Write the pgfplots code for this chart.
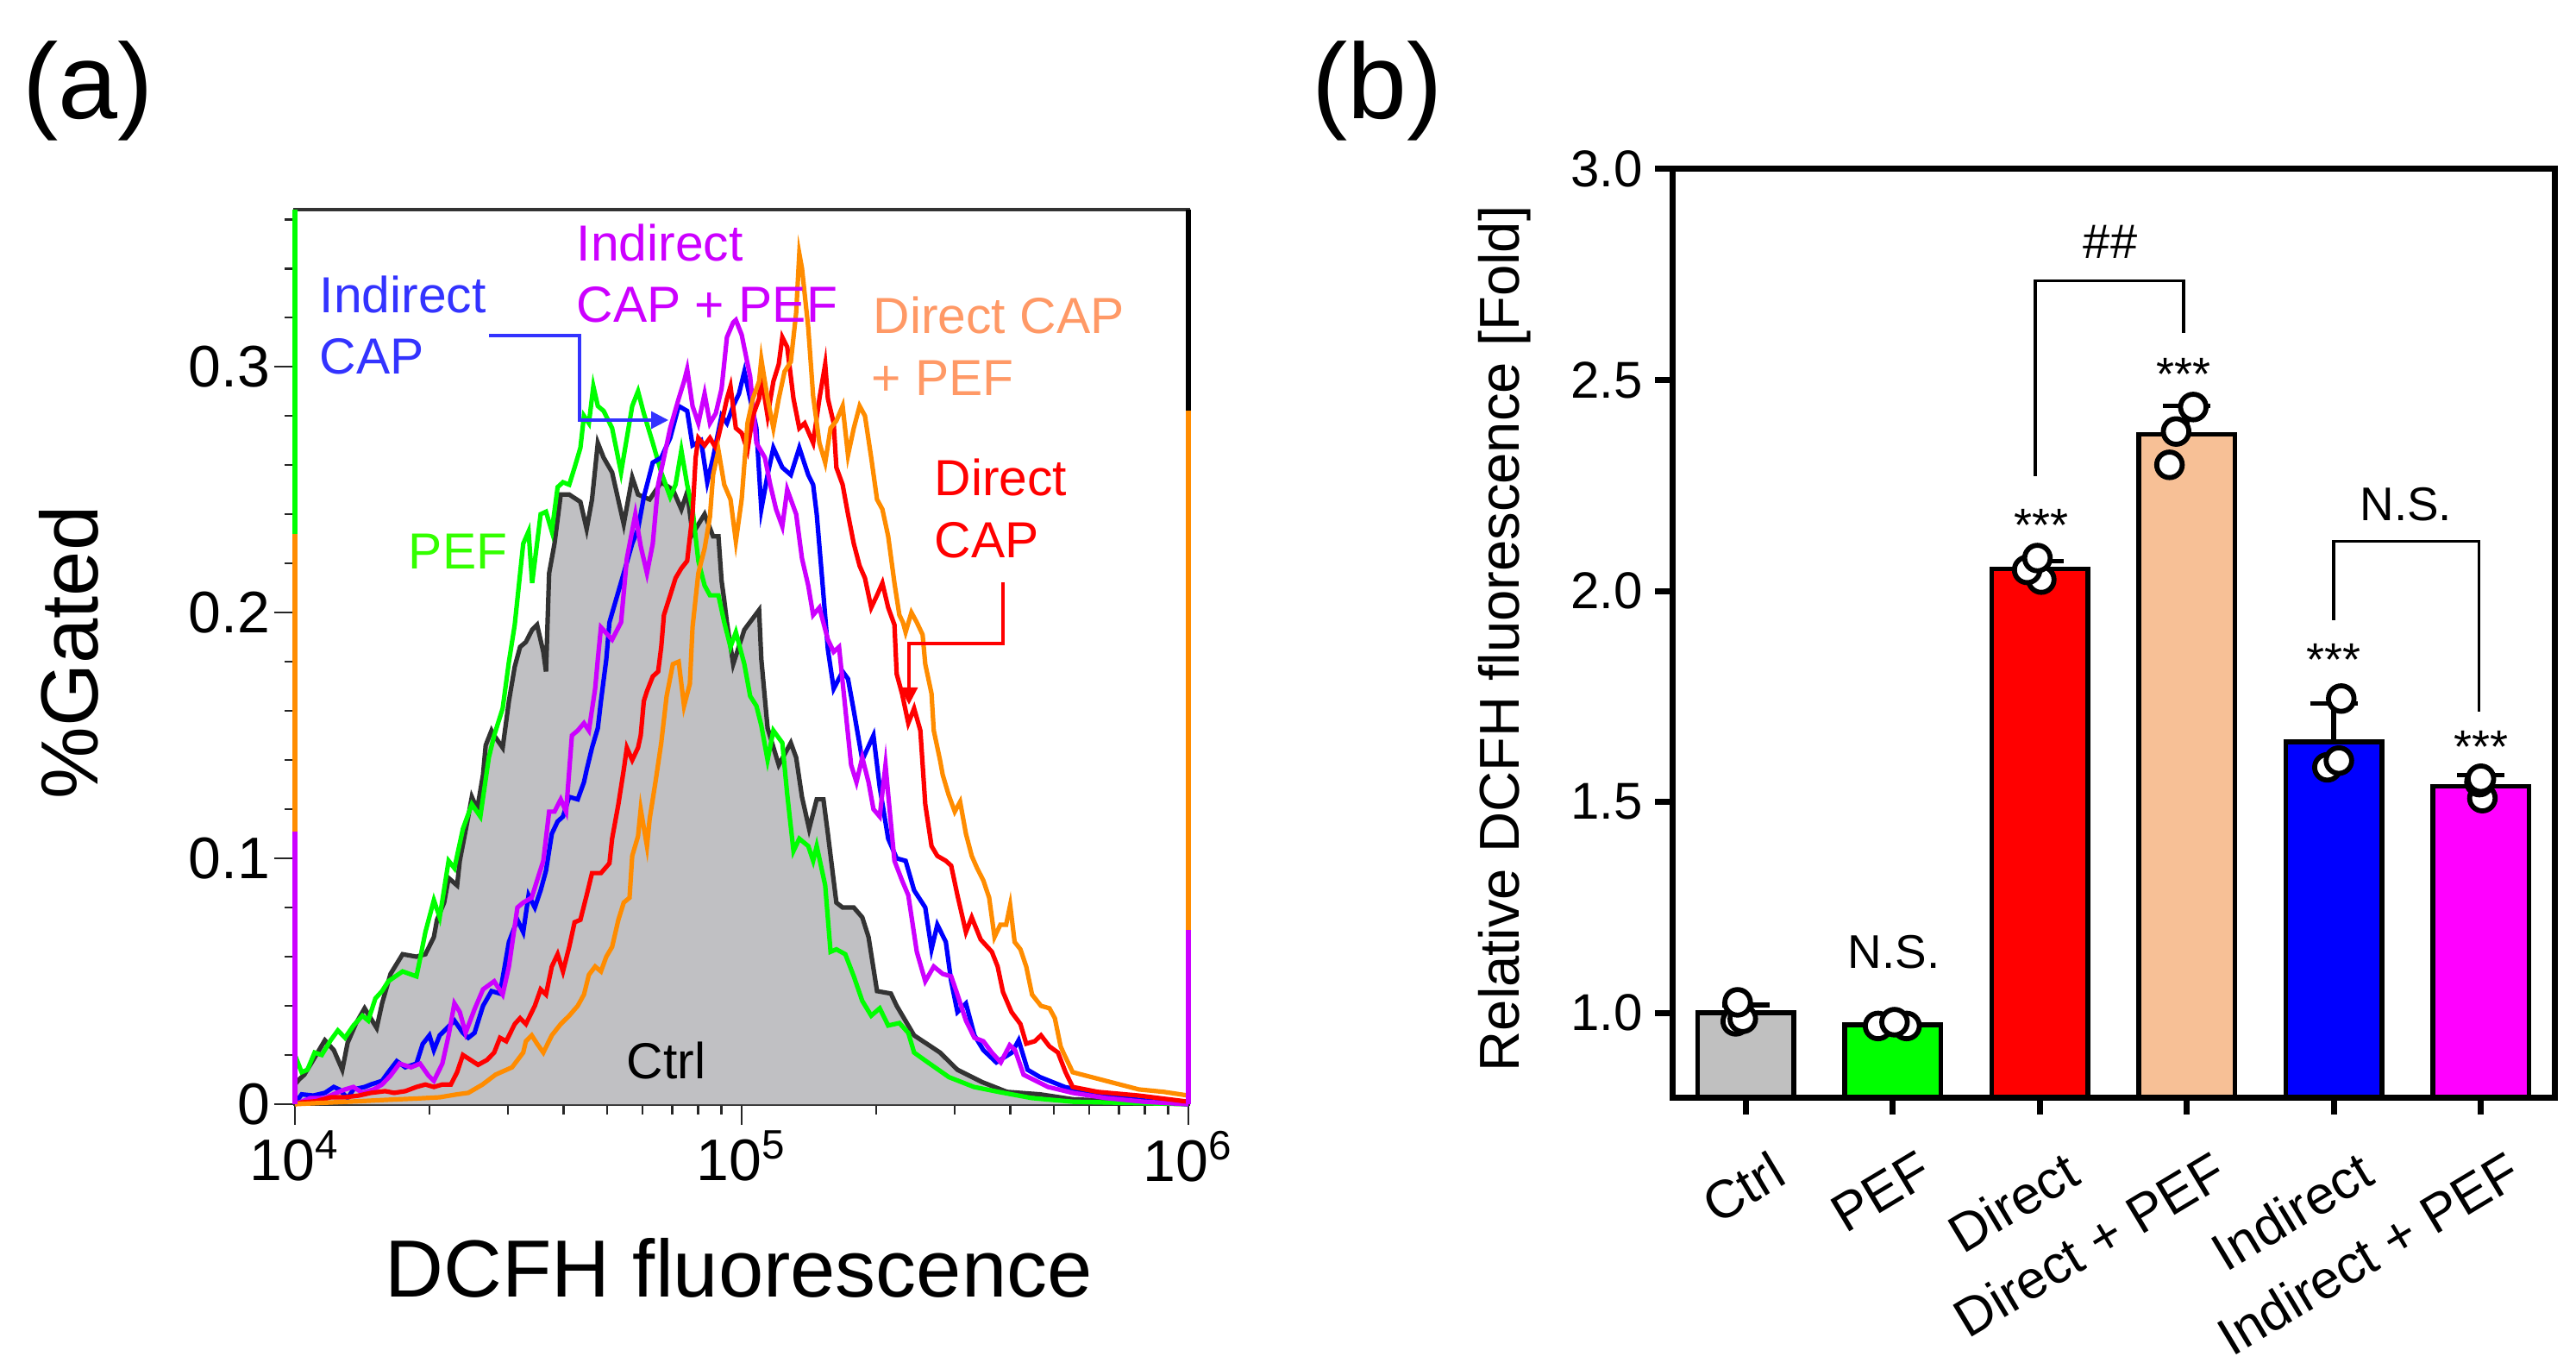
\documentclass[border=0pt]{standalone}
\usepackage{pgfplots}
\pgfplotsset{compat=1.18}
\usepackage{pgfplotstable}
\usepackage{fontspec}
\setmainfont{Liberation Sans}
\usetikzlibrary{arrows.meta}

\definecolor{ctrlfill}{RGB}{192,192,195}
\definecolor{ctrlline}{RGB}{51,51,51}
\definecolor{cgreen}{RGB}{0,255,0}
\definecolor{cgreenlab}{RGB}{51,255,0}
\definecolor{cblue}{RGB}{0,0,255}
\definecolor{cbluelab}{RGB}{51,51,255}
\definecolor{cpurple}{RGB}{204,0,255}
\definecolor{cred}{RGB}{255,0,0}
\definecolor{corange}{RGB}{255,140,0}
\definecolor{corangelab}{RGB}{255,153,102}
\definecolor{bpeach}{RGB}{247,192,150}
\definecolor{bmagenta}{RGB}{255,0,255}
\definecolor{bgray}{RGB}{192,192,192}

% x = log10(DCFH fluorescence), y = fraction gated
\pgfplotstableread{
x y
4.000 0.008
4.009 0.010
4.021 0.012
4.041 0.018
4.067 0.026
4.087 0.022
4.106 0.014
4.118 0.025
4.137 0.033
4.156 0.039
4.183 0.031
4.195 0.041
4.214 0.053
4.241 0.061
4.272 0.060
4.292 0.061
4.311 0.068
4.318 0.075
4.334 0.082
4.344 0.092
4.363 0.089
4.369 0.099
4.388 0.117
4.396 0.125
4.408 0.120
4.421 0.134
4.427 0.146
4.440 0.152
4.446 0.150
4.465 0.145
4.479 0.164
4.492 0.178
4.504 0.186
4.517 0.188
4.531 0.193
4.542 0.195
4.556 0.184
4.562 0.176
4.569 0.216
4.581 0.228
4.595 0.248
4.614 0.248
4.639 0.245
4.653 0.234
4.665 0.246
4.678 0.269
4.691 0.263
4.710 0.257
4.736 0.236
4.755 0.255
4.768 0.248
4.794 0.246
4.820 0.253
4.846 0.250
4.865 0.242
4.878 0.249
4.890 0.232
4.917 0.240
4.936 0.231
4.948 0.231
4.955 0.213
4.961 0.205
4.967 0.196
4.981 0.179
5.006 0.193
5.039 0.201
5.044 0.181
5.058 0.153
5.083 0.138
5.110 0.147
5.122 0.141
5.135 0.125
5.151 0.112
5.168 0.124
5.183 0.124
5.193 0.110
5.212 0.082
5.226 0.080
5.251 0.080
5.270 0.076
5.284 0.068
5.303 0.046
5.334 0.045
5.347 0.040
5.386 0.028
5.444 0.021
5.483 0.014
5.538 0.009
5.594 0.005
5.668 0.004
5.741 0.002
6.000 0.000
}\ctrltab

\pgfplotstableread{
x y
4.000 0.020
4.015 0.013
4.028 0.014
4.044 0.021
4.060 0.020
4.080 0.026
4.096 0.030
4.112 0.027
4.131 0.032
4.151 0.036
4.164 0.034
4.180 0.043
4.195 0.046
4.209 0.050
4.241 0.054
4.272 0.052
4.280 0.059
4.292 0.070
4.311 0.083
4.324 0.076
4.344 0.099
4.357 0.096
4.376 0.112
4.396 0.122
4.415 0.117
4.434 0.141
4.446 0.150
4.465 0.161
4.479 0.180
4.492 0.195
4.511 0.228
4.523 0.233
4.531 0.212
4.550 0.240
4.562 0.241
4.575 0.233
4.588 0.251
4.600 0.253
4.614 0.252
4.626 0.259
4.639 0.267
4.647 0.280
4.658 0.277
4.668 0.292
4.678 0.284
4.691 0.282
4.710 0.275
4.730 0.257
4.755 0.284
4.768 0.290
4.781 0.281
4.801 0.269
4.820 0.257
4.840 0.247
4.852 0.252
4.865 0.266
4.878 0.252
4.890 0.242
4.903 0.221
4.917 0.211
4.929 0.207
4.948 0.207
4.961 0.196
4.975 0.186
4.987 0.192
5.006 0.179
5.019 0.166
5.033 0.162
5.044 0.154
5.058 0.140
5.071 0.152
5.091 0.147
5.102 0.126
5.116 0.103
5.129 0.108
5.149 0.105
5.160 0.099
5.168 0.105
5.187 0.089
5.199 0.062
5.212 0.063
5.232 0.061
5.251 0.052
5.270 0.042
5.290 0.036
5.309 0.039
5.328 0.032
5.353 0.033
5.373 0.029
5.386 0.021
5.409 0.018
5.464 0.011
5.520 0.007
5.575 0.005
5.649 0.0025
5.741 0.001
6.000 0.000
}\peftab

\pgfplotstableread{
x y
4.000 0.002
4.009 0.0025
4.015 0.004
4.041 0.0035
4.067 0.0046
4.087 0.007
4.099 0.006
4.118 0.0025
4.131 0.006
4.156 0.007
4.170 0.008
4.195 0.0095
4.209 0.013
4.228 0.0175
4.247 0.015
4.272 0.0165
4.286 0.0245
4.301 0.028
4.311 0.022
4.324 0.028
4.338 0.0305
4.357 0.034
4.376 0.029
4.388 0.027
4.402 0.029
4.421 0.040
4.440 0.046
4.459 0.045
4.479 0.066
4.498 0.075
4.511 0.070
4.523 0.085
4.537 0.080
4.550 0.087
4.562 0.095
4.575 0.110
4.588 0.115
4.600 0.117
4.614 0.125
4.633 0.124
4.647 0.131
4.653 0.136
4.665 0.145
4.678 0.153
4.685 0.164
4.697 0.181
4.704 0.196
4.736 0.216
4.755 0.228
4.768 0.234
4.781 0.247
4.801 0.261
4.820 0.263
4.840 0.271
4.859 0.284
4.878 0.282
4.890 0.268
4.909 0.270
4.923 0.253
4.936 0.263
4.955 0.280
4.967 0.277
4.981 0.284
4.994 0.289
5.006 0.298
5.019 0.287
5.033 0.275
5.044 0.242
5.058 0.256
5.071 0.267
5.091 0.259
5.110 0.256
5.129 0.267
5.149 0.256
5.160 0.252
5.168 0.240
5.180 0.214
5.193 0.185
5.206 0.169
5.226 0.176
5.238 0.173
5.251 0.160
5.270 0.140
5.295 0.150
5.309 0.129
5.328 0.108
5.347 0.100
5.367 0.099
5.386 0.087
5.411 0.080
5.425 0.063
5.438 0.073
5.457 0.066
5.469 0.050
5.483 0.0375
5.502 0.041
5.521 0.028
5.541 0.022
5.570 0.017
5.605 0.021
5.620 0.026
5.640 0.014
5.668 0.011
5.723 0.007
5.778 0.005
5.852 0.0025
5.926 0.001
6.000 0.000
}\indtab

\pgfplotstableread{
x y
4.000 0.000
4.035 0.0025
4.067 0.0025
4.093 0.0046
4.112 0.006
4.131 0.007
4.151 0.0046
4.176 0.006
4.195 0.008
4.214 0.0116
4.234 0.0165
4.260 0.015
4.280 0.0165
4.299 0.0116
4.311 0.0095
4.330 0.0165
4.344 0.028
4.357 0.041
4.369 0.0375
4.382 0.029
4.402 0.0386
4.421 0.0467
4.446 0.050
4.465 0.0446
4.479 0.056
4.498 0.080
4.511 0.082
4.530 0.084
4.542 0.091
4.556 0.099
4.569 0.119
4.581 0.119
4.595 0.124
4.607 0.119
4.620 0.150
4.633 0.152
4.647 0.155
4.658 0.152
4.672 0.169
4.678 0.181
4.685 0.194
4.710 0.189
4.730 0.196
4.743 0.222
4.762 0.240
4.774 0.227
4.788 0.216
4.801 0.228
4.813 0.252
4.826 0.263
4.840 0.275
4.859 0.287
4.871 0.294
4.878 0.299
4.890 0.284
4.903 0.277
4.917 0.289
4.929 0.277
4.942 0.281
4.955 0.291
4.967 0.312
4.981 0.318
4.987 0.319
5.000 0.313
5.019 0.296
5.033 0.269
5.052 0.263
5.064 0.252
5.077 0.242
5.091 0.235
5.102 0.250
5.122 0.240
5.135 0.222
5.149 0.211
5.160 0.199
5.174 0.202
5.193 0.189
5.206 0.184
5.218 0.186
5.232 0.161
5.245 0.138
5.257 0.131
5.270 0.141
5.284 0.131
5.295 0.120
5.309 0.117
5.322 0.138
5.328 0.126
5.342 0.099
5.359 0.091
5.373 0.085
5.392 0.062
5.411 0.050
5.430 0.056
5.450 0.053
5.469 0.052
5.483 0.0446
5.502 0.034
5.521 0.027
5.541 0.0256
5.560 0.021
5.580 0.017
5.600 0.024
5.612 0.022
5.631 0.012
5.686 0.007
5.741 0.0046
5.815 0.0025
5.900 0.001
6.000 0.000
}\indpeftab

\pgfplotstableread{
x y
4.000 0.000
4.015 0.0007
4.047 0.0012
4.080 0.0028
4.112 0.0028
4.143 0.0035
4.170 0.0046
4.202 0.0053
4.222 0.0046
4.247 0.0053
4.272 0.007
4.292 0.008
4.311 0.007
4.330 0.008
4.349 0.008
4.363 0.013
4.376 0.020
4.388 0.0186
4.410 0.016
4.430 0.018
4.446 0.021
4.459 0.027
4.473 0.0256
4.492 0.0326
4.504 0.035
4.517 0.0326
4.537 0.040
4.550 0.0467
4.562 0.0446
4.575 0.056
4.588 0.061
4.600 0.054
4.614 0.064
4.626 0.074
4.639 0.075
4.653 0.085
4.665 0.094
4.685 0.094
4.704 0.098
4.710 0.108
4.724 0.122
4.736 0.136
4.743 0.145
4.755 0.140
4.768 0.145
4.774 0.150
4.781 0.164
4.788 0.168
4.801 0.174
4.813 0.176
4.820 0.186
4.826 0.199
4.840 0.207
4.852 0.214
4.865 0.218
4.878 0.221
4.890 0.240
4.897 0.263
4.903 0.271
4.917 0.268
4.929 0.271
4.942 0.267
4.955 0.277
4.967 0.287
4.975 0.292
4.987 0.275
5.000 0.273
5.013 0.266
5.025 0.280
5.039 0.287
5.044 0.296
5.058 0.280
5.071 0.294
5.083 0.301
5.091 0.312
5.102 0.308
5.116 0.287
5.129 0.275
5.141 0.277
5.160 0.269
5.174 0.287
5.187 0.301
5.193 0.287
5.206 0.277
5.212 0.259
5.226 0.252
5.238 0.240
5.251 0.228
5.264 0.219
5.276 0.214
5.290 0.202
5.303 0.207
5.315 0.212
5.328 0.202
5.342 0.195
5.347 0.175
5.359 0.167
5.373 0.155
5.386 0.161
5.400 0.152
5.411 0.122
5.425 0.105
5.438 0.101
5.457 0.099
5.469 0.097
5.483 0.085
5.502 0.070
5.515 0.076
5.535 0.067
5.560 0.062
5.573 0.056
5.585 0.0456
5.604 0.0375
5.624 0.0326
5.637 0.0246
5.656 0.0256
5.670 0.028
5.689 0.0235
5.708 0.021
5.725 0.013
5.741 0.007
5.797 0.005
5.889 0.0035
6.000 0.001
}\dirtab

\pgfplotstableread{
x y
4.000 0.000
4.080 0.0007
4.143 0.0012
4.209 0.0018
4.272 0.0023
4.324 0.0028
4.363 0.004
4.388 0.0046
4.420 0.008
4.449 0.012
4.486 0.015
4.511 0.021
4.517 0.0256
4.530 0.028
4.542 0.0246
4.556 0.021
4.575 0.028
4.595 0.0326
4.614 0.036
4.633 0.040
4.647 0.0446
4.658 0.0526
4.672 0.056
4.685 0.054
4.697 0.060
4.710 0.064
4.724 0.075
4.736 0.082
4.749 0.084
4.755 0.101
4.768 0.109
4.774 0.120
4.788 0.105
4.794 0.116
4.807 0.131
4.820 0.147
4.832 0.166
4.846 0.179
4.859 0.180
4.871 0.162
4.884 0.171
4.890 0.194
4.903 0.216
4.917 0.226
4.929 0.239
4.936 0.256
4.948 0.266
4.961 0.252
4.975 0.246
4.987 0.229
5.000 0.246
5.013 0.277
5.025 0.287
5.039 0.294
5.044 0.303
5.058 0.287
5.071 0.275
5.083 0.287
5.096 0.298
5.110 0.302
5.122 0.322
5.129 0.346
5.135 0.340
5.149 0.316
5.160 0.288
5.174 0.269
5.187 0.261
5.199 0.275
5.212 0.278
5.226 0.284
5.238 0.264
5.251 0.275
5.264 0.284
5.276 0.280
5.290 0.263
5.303 0.246
5.315 0.242
5.328 0.231
5.342 0.212
5.353 0.199
5.361 0.196
5.367 0.192
5.380 0.200
5.392 0.196
5.405 0.191
5.411 0.179
5.425 0.167
5.430 0.152
5.444 0.140
5.450 0.134
5.463 0.126
5.477 0.119
5.489 0.123
5.502 0.110
5.515 0.101
5.527 0.096
5.541 0.091
5.554 0.084
5.566 0.068
5.579 0.073
5.592 0.073
5.601 0.081
5.611 0.066
5.624 0.063
5.637 0.056
5.650 0.0446
5.670 0.040
5.689 0.039
5.701 0.035
5.714 0.0235
5.720 0.021
5.741 0.013
5.815 0.0095
5.889 0.006
5.945 0.005
6.000 0.0035
}\dirpeftab

\begin{document}
\begin{tikzpicture}
\path[use as bounding box] (0,0) rectangle (746.75pt,396.5pt);

% ---------------- Panel (a) ----------------
\begin{axis}[
  at={(85.5pt,76.5pt)}, anchor=south west,
  scale only axis, width=259pt, height=259.25pt,
  xmin=4, xmax=6, ymin=0, ymax=0.3639,
  clip=false,
  axis line style={black!80, line width=1.1pt},
  tick align=outside, xtick pos=bottom, ytick pos=left,
  major tick length=6pt, minor tick length=3pt,
  tick style={black!85, line width=0.7pt},
  xtick={4,5,6},
  xticklabels={10\textsuperscript{4},10\textsuperscript{5},10\textsuperscript{6}},
  minor xtick={4.301,4.477,4.602,4.699,4.778,4.845,4.903,4.954,5.301,5.477,5.602,5.699,5.778,5.845,5.903,5.954},
  ytick={0,0.1,0.2,0.3},
  yticklabels={0,0.1,0.2,0.3},
  minor ytick={0.02,0.04,0.06,0.08,0.12,0.14,0.16,0.18,0.22,0.24,0.26,0.28,0.32,0.34,0.36},
  tick label style={font=\fontsize{17}{20}\selectfont},
  yticklabel style={inner sep=1pt},
  xticklabel style={inner sep=1.5pt},
  xlabel={DCFH fluorescence},
  ylabel={\%Gated},
  xlabel style={font=\fontsize{23.5}{28}\selectfont, at={(axis description cs:0.497,-0.183)}, anchor=center},
  ylabel style={font=\fontsize{23.5}{28}\selectfont, at={(axis description cs:-0.253,0.505)}, anchor=center},
]
\addplot[fill=ctrlfill, draw=none] table[x=x,y=y] {\ctrltab} \closedcycle;
\addplot[ctrlline, line width=1.3pt] table[x=x,y=y] {\ctrltab};
\addplot[cgreen, line width=1.3pt] table[x=x,y=y] {\peftab};
\addplot[cblue, line width=1.3pt] table[x=x,y=y] {\indtab};
\addplot[cpurple, line width=1.3pt] table[x=x,y=y] {\indpeftab};
\addplot[cred, line width=1.3pt] table[x=x,y=y] {\dirtab};
\addplot[corange, line width=1.3pt] table[x=x,y=y] {\dirpeftab};
% coloured edge segments of the overlaid histograms
\addplot[cgreen, line width=1.3pt] coordinates {(4,0.232) (4,0.3639)};
\addplot[corange, line width=1.3pt] coordinates {(4,0.111) (4,0.232)};
\addplot[cpurple, line width=1.3pt] coordinates {(4,0) (4,0.111)};
\addplot[black, line width=1.5pt] coordinates {(6,0.282) (6,0.3639)};
\addplot[corange, line width=1.5pt] coordinates {(6,0.071) (6,0.282)};
\addplot[cpurple, line width=1.5pt] coordinates {(6,0) (6,0.071)};
\end{axis}

% ---------------- Panel (b) ----------------
\begin{axis}[
  at={(484.75pt,78.5pt)}, anchor=south west,
  scale only axis, width=255.75pt, height=269pt,
  xmin=-0.5, xmax=5.5, ymin=0.8, ymax=3.0,
  axis on top,
  axis line style={black, line width=1.75pt},
  tick align=outside, xtick pos=bottom, ytick pos=left,
  major tick length=5pt,
  tick style={black, line width=1.75pt},
  xtick={0,1,2,3,4,5},
  xticklabels={Ctrl,PEF,Direct,Direct + PEF,Indirect,Indirect + PEF},
  ytick={1,1.5,2,2.5,3},
  yticklabels={1.0,1.5,2.0,2.5,3.0},
  yticklabel style={font=\fontsize{15}{18}\selectfont},
  xticklabel style={font=\fontsize{15.5}{18}\selectfont, inner sep=0pt, xshift=6.75pt, yshift=-9.75pt, rotate=31, anchor=north east},
  ylabel={Relative DCFH fluorescence [Fold]},
  ylabel style={font=\fontsize{16.3}{19}\selectfont, at={(axis description cs:-0.19,0.494)}, anchor=center},
  errstyle/.style={error bars/.cd, y dir=plus, y explicit,
    error bar style={black, line width=1.4pt},
    error mark options={black, line width=1.4pt, mark size=6.9pt, rotate=90}},
]
\addplot[ybar, bar width=0.655, bar shift=0pt, fill=bgray, draw=black, line width=1.35pt, errstyle]
  coordinates {(0,1.0) +- (0,0.019)};
\addplot[ybar, bar width=0.655, bar shift=0pt, fill=cgreen, draw=black, line width=1.35pt, errstyle]
  coordinates {(1,0.972) +- (0,0.006)};
\addplot[ybar, bar width=0.655, bar shift=0pt, fill=cred, draw=black, line width=1.35pt, errstyle]
  coordinates {(2,2.052) +- (0,0.019)};
\addplot[ybar, bar width=0.655, bar shift=0pt, fill=bpeach, draw=black, line width=1.35pt, errstyle]
  coordinates {(3,2.371) +- (0,0.068)};
\addplot[ybar, bar width=0.655, bar shift=0pt, fill=cblue, draw=black, line width=1.35pt, errstyle]
  coordinates {(4,1.642) +- (0,0.091)};
\addplot[ybar, bar width=0.655, bar shift=0pt, fill=bmagenta, draw=black, line width=1.35pt, errstyle]
  coordinates {(5,1.537) +- (0,0.027)};
% individual replicates
\addplot[only marks, mark=*, mark size=3.7pt, mark options={fill=white, draw=black, line width=1.45pt}]
  coordinates {
  (-0.068,0.980) (-0.020,0.986) (-0.055,1.025)
  (0.900,0.969) (1.094,0.969) (1.012,0.978)
  (2.010,2.027) (1.914,2.050) (1.984,2.078)
  (2.882,2.299) (2.927,2.378) (3.044,2.436)
  (3.956,1.582) (4.034,1.598) (4.050,1.745)
  (5.010,1.509) (4.990,1.547) (5.000,1.555)
  };
% significance annotations
\draw[line width=0.9pt] (axis cs:1.97,2.273) -- (axis cs:1.97,2.735) -- (axis cs:2.978,2.735) -- (axis cs:2.978,2.611);
\draw[line width=0.9pt] (axis cs:4.0,1.931) -- (axis cs:4.0,2.118) -- (axis cs:4.987,2.118) -- (axis cs:4.987,1.714);
\node[font=\fontsize{14}{16}\selectfont, inner sep=0pt] at (axis cs:2.48,2.827) {\#\#};
\node[font=\fontsize{13.5}{16}\selectfont, inner sep=0pt, anchor=north] at (axis cs:2.01,2.196) {***};
\node[font=\fontsize{13.5}{16}\selectfont, inner sep=0pt, anchor=north] at (axis cs:2.98,2.554) {***};
\node[font=\fontsize{13.5}{16}\selectfont, inner sep=0pt, anchor=north] at (axis cs:4.0,1.877) {***};
\node[font=\fontsize{13.5}{16}\selectfont, inner sep=0pt, anchor=north] at (axis cs:5.0,1.669) {***};
\node[font=\fontsize{13.7}{16}\selectfont, inner sep=0pt, anchor=base] at (axis cs:4.49,2.167) {N.S.};
\node[font=\fontsize{13.7}{16}\selectfont, inner sep=0pt, anchor=base] at (axis cs:1.007,1.105) {N.S.};
\end{axis}

% ---------------- annotations in image pixel coordinates ----------------
\begin{scope}[shift={(0pt,396.5pt)}, x=0.25pt, y=-0.25pt]
\node[font=\fontsize{31}{37}\selectfont, inner sep=0pt] at (102,105) {(a)};
\node[font=\fontsize{31}{37}\selectfont, inner sep=0pt] at (1597,105) {(b)};
\begin{scope}[every node/.style={font=\fontsize{14.7}{17}\selectfont, inner sep=0pt, anchor=base west}]
\node[text=cbluelab] at (370,363) {Indirect};
\node[text=cbluelab] at (370,434) {CAP};
\node[text=cgreenlab] at (473,660) {PEF};
\node[text=cpurple] at (668,303) {Indirect};
\node[text=cpurple] at (668,374) {CAP + PEF};
\node[text=corangelab] at (1012,387) {Direct CAP};
\node[text=corangelab] at (1010,459) {+ PEF};
\node[text=cred] at (1083,575) {Direct};
\node[text=cred] at (1083,647) {CAP};
\node[text=black] at (726,1250) {Ctrl};
\end{scope}
\draw[cbluelab, line width=0.8pt, -{Triangle[length=5pt,width=5pt]}] (567,389) -- (672,389) -- (672,487) -- (775,487);
\draw[cred, line width=0.8pt, -{Triangle[length=5pt,width=5pt]}] (1163,675) -- (1163,746) -- (1054,746) -- (1054,817);
\end{scope}
\end{tikzpicture}
\end{document}
